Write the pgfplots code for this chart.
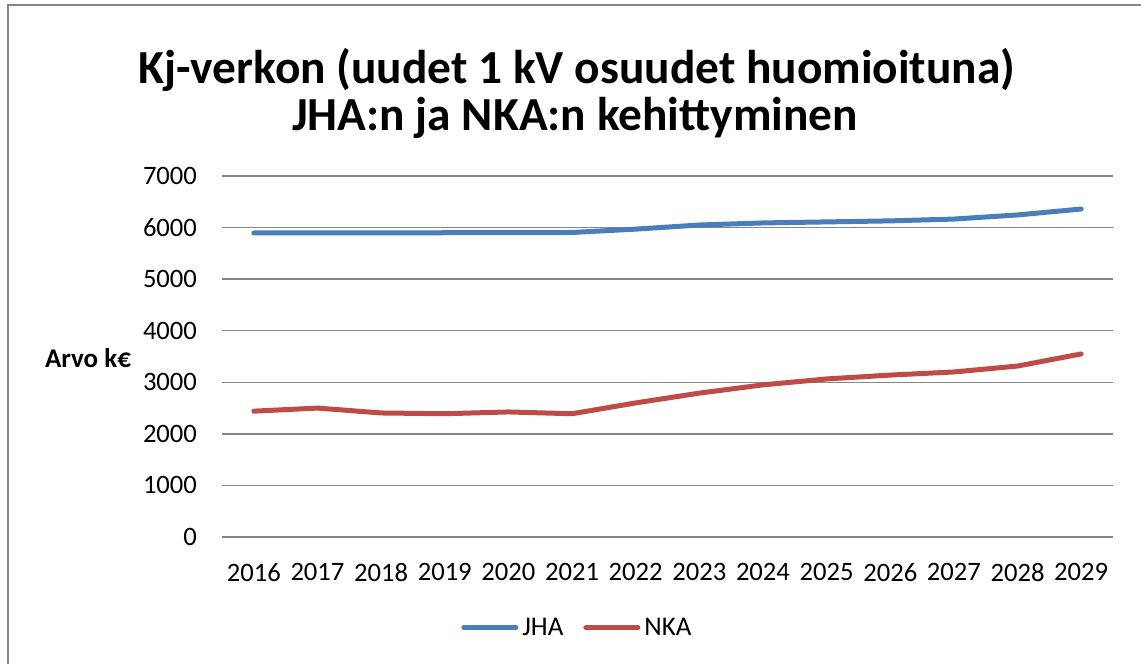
\documentclass[border=0pt]{standalone}
\usepackage{fontspec}
\setmainfont{Carlito}
\usepackage{pgfplots}
\pgfplotsset{compat=1.18}

\definecolor{jha}{HTML}{4A7EBB}
\definecolor{nka}{HTML}{BE4B48}
\definecolor{gridgray}{HTML}{868686}

\begin{document}
\begin{tikzpicture}
% page = 1141 x 664 px at 0.5pt per px
\useasboundingbox (0,0) rectangle (570.5pt,332pt);
\draw[gridgray, line width=1.2pt] (4pt,0pt) -- (4pt,329.5pt) -- (570.5pt,329.5pt);

\node[font=\fontsize{23.7}{28}\selectfont\bfseries] at (288.5pt,297pt) {Kj-verkon (uudet 1 kV osuudet huomioituna)};
\node[font=\fontsize{23.7}{28}\selectfont\bfseries] at (287.5pt,273pt) {JHA:n ja NKA:n kehittyminen};
\node[font=\fontsize{13.5}{16}\selectfont\bfseries] at (44pt,153pt) {Arvo k€};

\begin{axis}[
    at={(111pt,63.5pt)}, anchor=south west,
    scale only axis,
    width=445.5pt, height=180.5pt,
    xmin=-0.5, xmax=13.5,
    ymin=0, ymax=7000,
    ytick={0,1000,...,7000},
    xtick={0,...,13},
    xticklabels={2016,2017,2018,2019,2020,2021,2022,2023,2024,2025,2026,2027,2028,2029},
    ymajorgrids,
    grid style={gridgray, line width=0.75pt},
    axis line style={draw=none},
    major tick length=0pt,
    tick label style={font=\fontsize{13.3}{16}\selectfont},
    /pgf/number format/assume math mode=true,
    /pgf/number format/1000 sep={},
    yticklabel style={xshift=-9pt},
    xticklabel style={yshift=-9.5pt},
    legend columns=2,
    legend style={at={(0.40,-0.252)}, anchor=center, draw=none, font=\fontsize{13.5}{16}\selectfont,
        /tikz/every even column/.append style={column sep=8pt}},
    legend image code/.code={\draw[#1, line cap=round] (0pt,0pt) -- (26pt,0pt);},
    every axis plot/.append style={line width=2.5pt, line join=round, line cap=round},
]
\addplot[jha, mark=none] coordinates {
(0,5895) (1,5895) (2,5895) (3,5900) (4,5900) (5,5905) (6,5970)
(7,6050) (8,6090) (9,6110) (10,6130) (11,6165) (12,6245) (13,6360)};
\addlegendentry{JHA}
\addplot[nka, mark=none] coordinates {
(0,2440) (1,2500) (2,2405) (3,2390) (4,2425) (5,2390) (6,2600)
(7,2790) (8,2950) (9,3065) (10,3140) (11,3200) (12,3315) (13,3550)};
\addlegendentry{NKA}
\end{axis}
\end{tikzpicture}
\end{document}
